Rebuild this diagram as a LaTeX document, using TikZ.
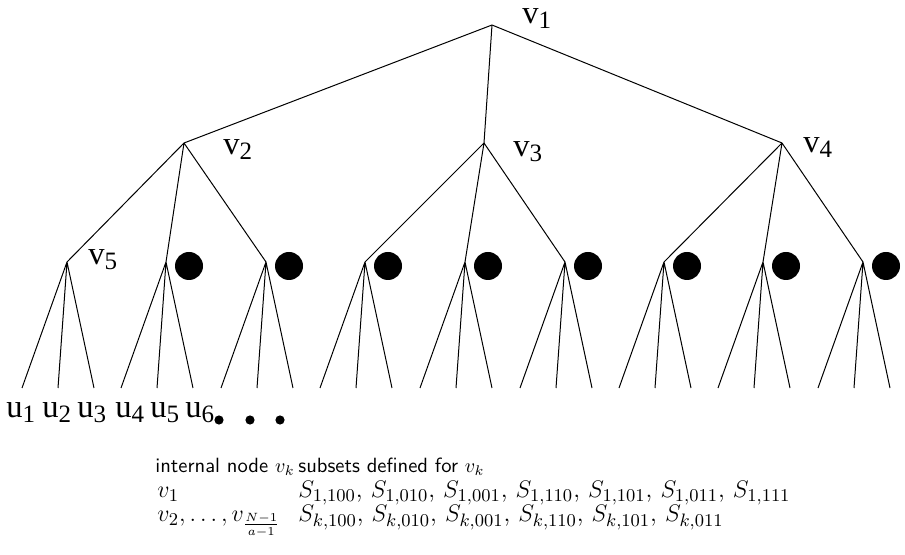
\documentclass[tikz,border=0pt]{standalone}
\usepackage{fontspec}
\newfontfamily\timesfont{Liberation Serif}
\newcommand\lbsub[2]{#1\raisebox{-2.5pt}{\fontsize{12.5}{13}\selectfont #2}}
\begin{document}
\begin{tikzpicture}[x=0.5pt,y=-0.5pt,
  edge/.style={line width=0.5pt},
  lbl/.style={anchor=base west,inner sep=0,font=\timesfont\fontsize{16.3}{18}\selectfont},
  bigdot/.style={circle,fill=black,inner sep=0,minimum size=14pt},
  smalldot/.style={circle,fill=black,inner sep=0,minimum size=4.6pt},
  tbl/.style={anchor=base west,inner sep=0,font=\fontsize{10.3}{12}\selectfont},
  tblm/.style={anchor=base west,inner sep=0,font=\fontsize{12.4}{14}\selectfont}]
\useasboundingbox (0,0) rectangle (905,555);
% tree vertices
\coordinate (r) at (492,25);
\coordinate (a1) at (184,143);
\coordinate (a2) at (484,143);
\coordinate (a3) at (782,143);
\foreach \i/\x in {1/67,2/166,3/266,4/365,5/465,6/565,7/664,8/763,9/863}{
  \coordinate (b\i) at (\x,262);
  \coordinate (l\i a) at (\x-45,388);
  \coordinate (l\i b) at (\x-9,388);
  \coordinate (l\i c) at (\x+27,388);
  \draw[edge] (b\i) -- (l\i a) (b\i) -- (l\i b) (b\i) -- (l\i c);
}
\foreach \j in {1,2,3}{\draw[edge] (r) -- (a\j);}
\draw[edge] (a1) -- (b1) (a1) -- (b2) (a1) -- (b3);
\draw[edge] (a2) -- (b4) (a2) -- (b5) (a2) -- (b6);
\draw[edge] (a3) -- (b7) (a3) -- (b8) (a3) -- (b9);
\foreach \i/\x in {2/166,3/266,4/365,5/465,6/565,7/664,8/763,9/863}{
  \node[bigdot] (d\i) at (\x+23,266) {};
}
% labels
\node[lbl] (v1) at (522,24) {\lbsub{v}{1}};
\node[lbl] (v2) at (223,155) {\lbsub{v}{2}};
\node[lbl] (v3) at (513,157) {\lbsub{v}{3}};
\node[lbl] (v4) at (803,153) {\lbsub{v}{4}};
\node[lbl] (v5) at (88,265) {\lbsub{v}{5}};
\foreach \k/\x in {1/6,2/42,3/77,4/115,5/150,6/185}{
  \node[lbl] (u\k) at (\x,418) {\lbsub{u}{\k}};
}
\node[smalldot] (e1) at (219,420) {};
\node[smalldot] (e2) at (250,420) {};
\node[smalldot] (e3) at (280,420) {};
% table
\node[tbl] (h1) at (155,473) {\textsf{internal node} $v_k$};
\node[tbl] (h2) at (298,473) {\textsf{subsets defined for} $v_k$};
\node[tblm] (c1) at (157,498) {$v_1$};
\node[tblm] (c2) at (298,498) {$S_{1,100}$, $S_{1,010}$, $S_{1,001}$, $S_{1,110}$, $S_{1,101}$, $S_{1,011}$, $S_{1,111}$};
\node[tblm] (d1) at (157,522) {$v_2,\ldots,v_{\frac{N-1}{a-1}}$};
\node[tblm] (d2) at (298,522) {$S_{k,100}$, $S_{k,010}$, $S_{k,001}$, $S_{k,110}$, $S_{k,101}$, $S_{k,011}$};
\end{tikzpicture}
\end{document}
